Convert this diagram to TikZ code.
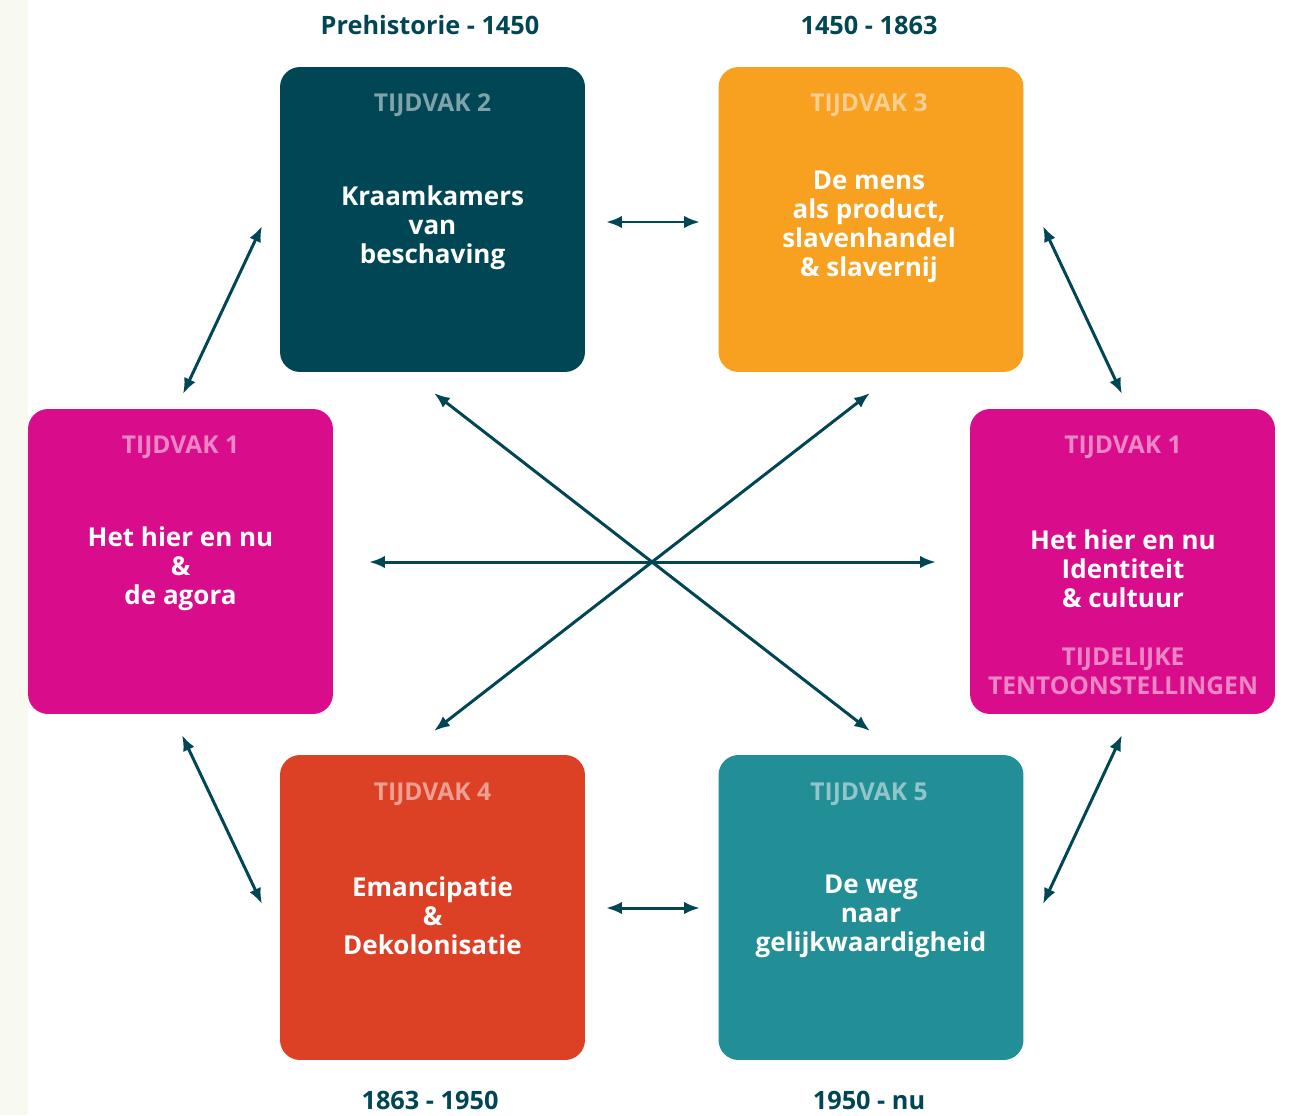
\documentclass[tikz,border=0pt]{standalone}
\usepackage{fontspec}
\setmainfont{Open Sans}
\usetikzlibrary{arrows.meta}
\definecolor{dteal}{HTML}{004655}
\definecolor{orng}{HTML}{F8A020}
\definecolor{mgnt}{HTML}{D90D8C}
\definecolor{rred}{HTML}{DC4126}
\definecolor{tteal}{HTML}{228E96}
\definecolor{stripc}{HTML}{F8FAF2}
\begin{document}
\begin{tikzpicture}[x=0.02cm,y=-0.02cm,
  box/.style={rounded corners=0.4cm, minimum width=6.1cm, minimum height=6.1cm, inner sep=0pt, draw=none},
  hdr/.style={text=white, text opacity=0.5, font=\bfseries\fontsize{14}{16.6}\selectfont},
  body/.style={text=white, align=center, font=\bfseries\fontsize{14.8}{16.6}\selectfont, inner sep=0pt},
  date/.style={text=dteal, font=\bfseries\fontsize{14.4}{16}\selectfont},
  conn/.style={draw=dteal, line width=1.7pt, {Latex[length=9pt,width=7pt]}-{Latex[length=9pt,width=7pt]}}
]
\useasboundingbox (0,0) rectangle (1290,1115);
\fill[stripc] (0,0) rectangle (28,1115);

% boxes
\node[box, fill=dteal] (t2) at (432.5,219.5) {};
\node[box, fill=orng] (t3) at (871,219.5) {};
\node[box, fill=mgnt] (t1l) at (180.5,561.5) {};
\node[box, fill=mgnt] (t1r) at (1122.5,561.5) {};
\node[box, fill=rred] (t4) at (432.5,907.5) {};
\node[box, fill=tteal] (t5) at (871,907.5) {};

% headers
\node[hdr] (t2h) at (432.5,105) {TIJDVAK 2};
\node[hdr] (t3h) at (869,105) {TIJDVAK 3};
\node[hdr] (t1lh) at (180.5,447) {TIJDVAK 1};
\node[hdr] (t1rh) at (1123,447) {TIJDVAK 1};
\node[hdr] (t4h) at (432.5,794) {TIJDVAK 4};
\node[hdr] (t5h) at (869,794) {TIJDVAK 5};
\node[hdr, align=center] (t1rx) at (1123,671) {TIJDELIJKE\\TENTOONSTELLINGEN};

% body texts
\node[body] (t2b) at (432.5,228) {Kraamkamers\\van\\beschaving};
\node[body] (t3b) at (869,227) {De mens\\als product,\\slavenhandel\\\& slavernij};
\node[body] (t1lb) at (180.5,569) {Het hier en nu\\\&\\de agora};
\node[body] (t1rb) at (1123,569) {Het hier en nu\\Identiteit\\\& cultuur};
\node[body] (t4b) at (432.5,916) {Emancipatie\\\&\\Dekolonisatie};
\node[body] (t5b) at (871,916) {De weg\\naar\\gelijkwaardigheid};

% dates
\node[date] (d2) at (430,25) {Prehistorie - 1450};
\node[date] (d3) at (869,25) {1450 - 1863};
\node[date] (d4) at (430,1100) {1863 - 1950};
\node[date] (d5) at (869,1100) {1950 - nu};

% arrow end points
\coordinate (a23a) at (606,222);
\coordinate (a23b) at (700,222);
\coordinate (a45a) at (606,908);
\coordinate (a45b) at (700,908);
\coordinate (a12a) at (183,394);
\coordinate (a12b) at (262,226);
\coordinate (a3ra) at (1043,226);
\coordinate (a3rb) at (1122,394);
\coordinate (a14a) at (182,735);
\coordinate (a14b) at (262,904);
\coordinate (a5ra) at (1043,904);
\coordinate (a5rb) at (1122,735);
\coordinate (ahla) at (369,562);
\coordinate (ahlb) at (936,562);
\coordinate (ad1a) at (434,393);
\coordinate (ad1b) at (870,731);
\coordinate (ad2a) at (870,393);
\coordinate (ad2b) at (434,731);

\draw[conn] (a23a) -- (a23b);
\draw[conn] (a45a) -- (a45b);
\draw[conn] (a12a) -- (a12b);
\draw[conn] (a3ra) -- (a3rb);
\draw[conn] (a14a) -- (a14b);
\draw[conn] (a5ra) -- (a5rb);
\draw[conn] (ahla) -- (ahlb);
\draw[conn] (ad1a) -- (ad1b);
\draw[conn] (ad2a) -- (ad2b);
\end{tikzpicture}
\end{document}
